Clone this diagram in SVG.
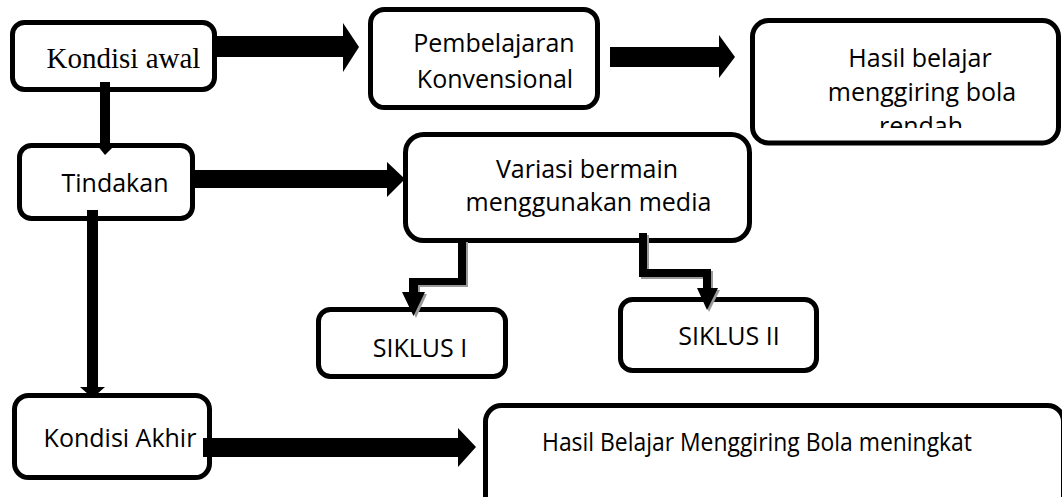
<svg xmlns="http://www.w3.org/2000/svg" width="1062" height="497" viewBox="0 0 1062 497">
<style>
.box{fill:#fff;stroke:#000;stroke-width:5}
.t{font-family:"Open Sans","Noto Sans",sans-serif;font-size:25px;fill:#000;text-anchor:middle}
.s{font-family:"Liberation Serif","Times New Roman",serif;font-size:29px;fill:#000;text-anchor:middle}
.arr{fill:#000}
.sh{fill:#9a9a9a}
</style>
<defs>
<clipPath id="clipRendah"><rect x="752" y="0" width="310" height="128"/></clipPath>
</defs>
<rect width="1062" height="497" fill="#fff"/>
<g id="n-kondisi-awal">
<rect class="box" x="12.5" y="22.5" width="202" height="67" rx="12"/>
<text class="s" x="123.5" y="68">Kondisi awal</text>
</g>
<g id="n-pembelajaran">
<rect class="box" x="370.5" y="9.5" width="227" height="98" rx="14"/>
<text class="t" x="494" y="52">Pembelajaran</text>
<text class="t" x="495" y="88">Konvensional</text>
</g>
<g id="n-hasil-rendah">
<rect class="box" x="752.5" y="20.5" width="306" height="122.5" rx="16"/>
<text class="t" x="920" y="67">Hasil belajar</text>
<text class="t" x="922" y="101">menggiring bola</text>
<text class="t" x="921" y="135" clip-path="url(#clipRendah)">rendah</text>
</g>
<g id="n-tindakan">
<rect class="box" x="19.5" y="145.5" width="173" height="73" rx="12"/>
<text class="t" x="115" y="192">Tindakan</text>
</g>
<g id="n-variasi">
<rect class="box" x="405.5" y="134.5" width="344" height="106" rx="18"/>
<text class="t" x="587" y="178">Variasi bermain</text>
<text class="t" x="588.5" y="211">menggunakan media</text>
</g>
<g id="n-siklus1">
<rect class="box" x="318.5" y="309.5" width="187" height="67" rx="12"/>
<text class="t" x="420" y="357">SIKLUS I</text>
</g>
<g id="n-siklus2">
<rect class="box" x="620.5" y="299.5" width="196" height="71" rx="12"/>
<text class="t" x="729" y="345">SIKLUS II</text>
</g>
<g id="n-kondisi-akhir">
<rect class="box" x="14.5" y="395.5" width="195" height="82" rx="14"/>
<text class="t" x="120" y="447">Kondisi Akhir</text>
</g>
<g id="n-hasil-meningkat">
<rect class="box" x="485.5" y="405.5" width="578" height="110" rx="16"/>
<text class="t" x="757" y="451" textLength="430" lengthAdjust="spacingAndGlyphs">Hasil Belajar Menggiring Bola meningkat</text>
</g>
<g id="connectors">
<polygon class="arr" points="214,36 343,36 343,23 359,47 343,72 343,57 214,57"/>
<polygon class="arr" points="610,47 719,47 719,35 735,57 719,78 719,67 610,67"/>
<polygon class="arr" points="195,170 387,170 387,162 405,179 387,197 387,188 195,188"/>
<polygon class="arr" points="100,82 110,82 110,145 115,145 105,155 97,145 100,145"/>
<polygon class="arr" points="87,210 98,210 98,387 105,387 92.5,398 80,387 87,387"/>
<polygon class="arr" points="203,438 458,438 458,428 476,447 458,467 458,457 203,457"/>
<polygon class="sh" points="460,242 468,242 468,287 420,287 420,294 427,294 416,318 404,294 411,294 411,280 460,280"/>
<polygon class="arr" points="458,240 466,240 466,285 418,285 418,292 425,292 413.5,316 402,292 409,292 409,278 458,278"/>
<polygon class="sh" points="641,235 649,235 649,271 713,271 713,290 720,290 709,312 699,290 705,290 705,279 641,279"/>
<polygon class="arr" points="639,233 647,233 647,269 711,269 711,288 718,288 707,310 697,288 703,288 703,277 639,277"/>
</g>
</svg>
